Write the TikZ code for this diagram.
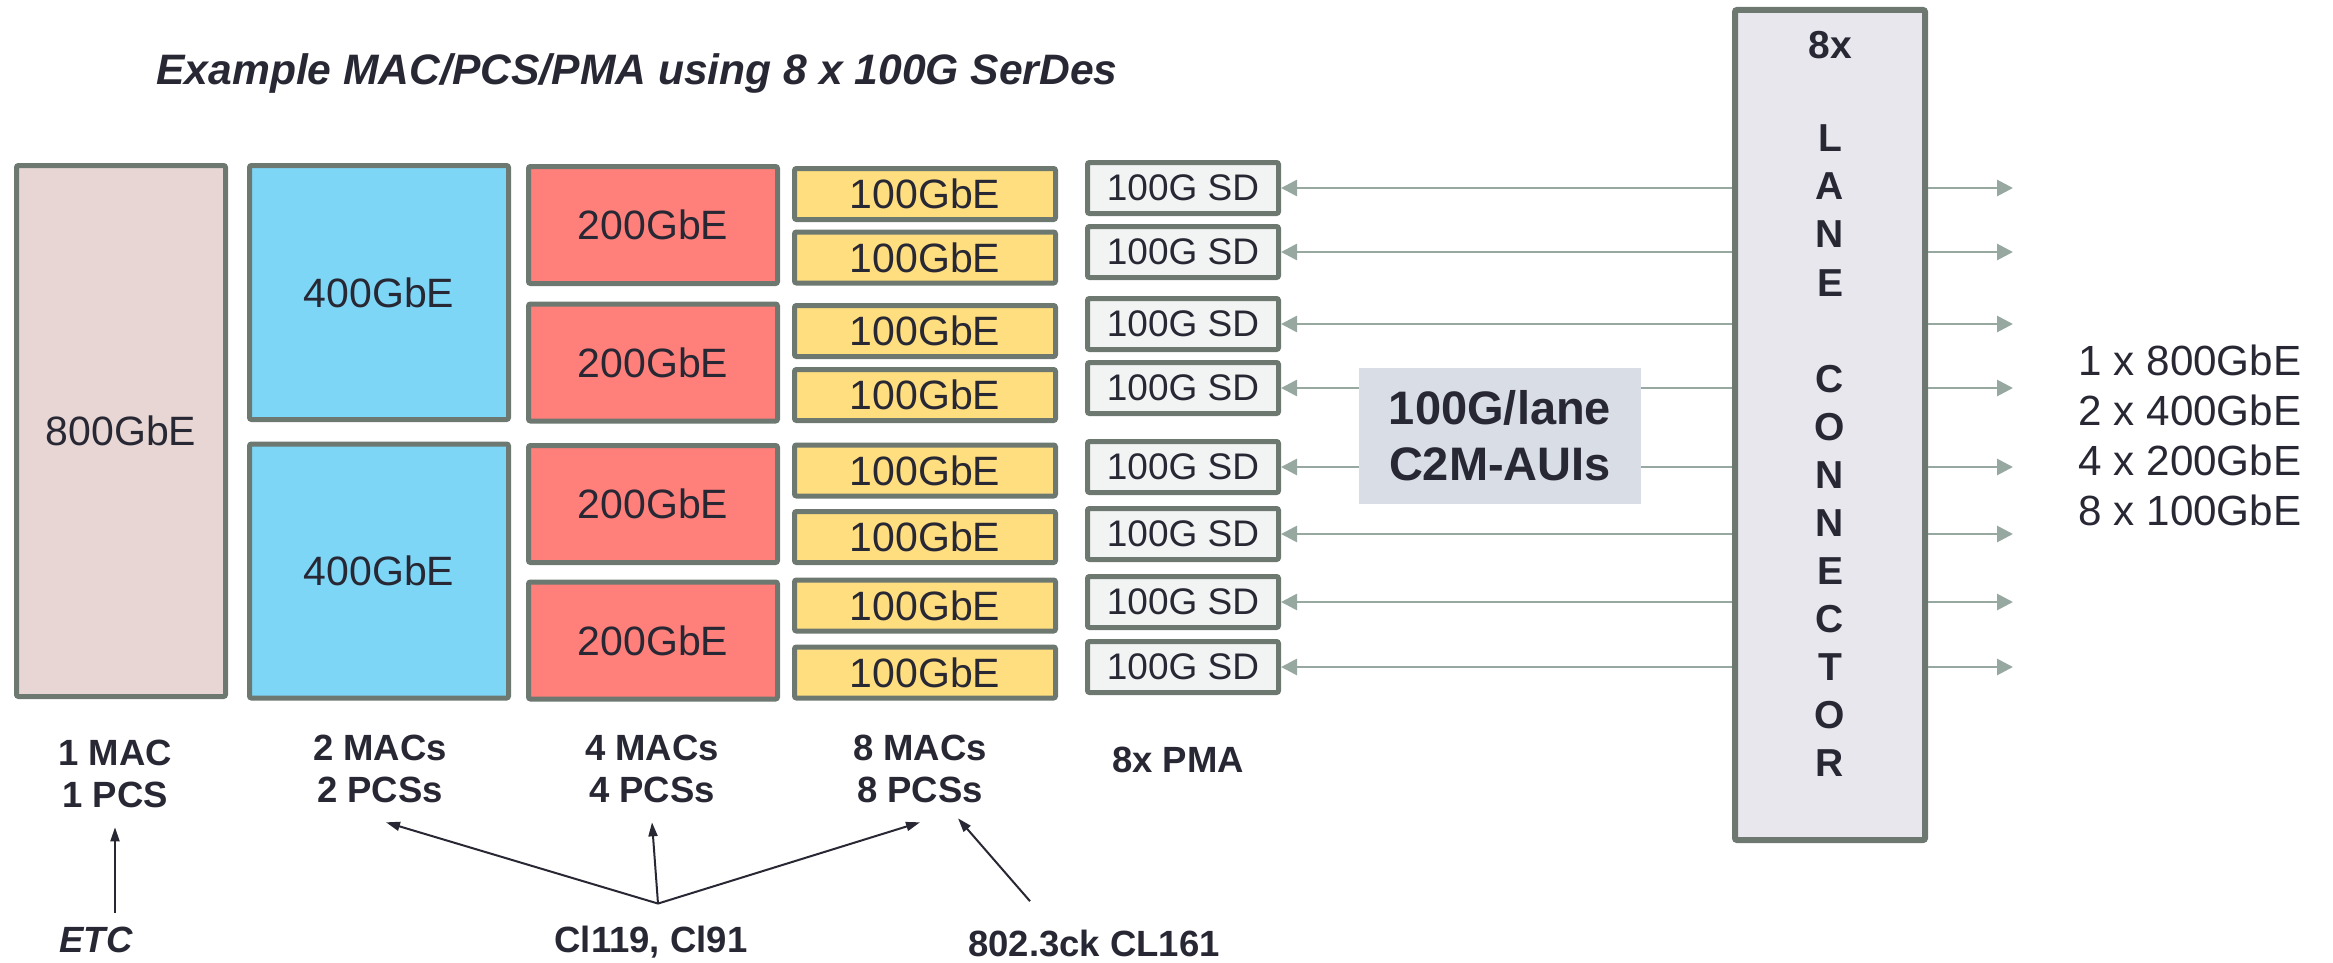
\documentclass[tikz,border=0pt]{standalone}
\usepackage{fontspec}
\setmainfont{Liberation Sans}
\usepackage{tikz}
\usetikzlibrary{arrows.meta}
\definecolor{lineCol}{RGB}{108,120,112}
\definecolor{arrowCol}{RGB}{150,168,160}
\definecolor{txtCol}{RGB}{40,40,52}
\definecolor{col800}{RGB}{232,214,212}
\definecolor{col400}{RGB}{126,214,247}
\definecolor{col200}{RGB}{255,127,123}
\definecolor{col100}{RGB}{255,222,128}
\definecolor{colSD}{RGB}{242,244,243}
\definecolor{colConn}{RGB}{232,231,237}
\definecolor{colAui}{RGB}{217,221,230}
\newcommand{\boxFont}{\fontsize{20.5}{24}\selectfont}
\newcommand{\sdFont}{\fontsize{18.5}{22}\selectfont}
\newcommand{\lblFont}{\fontsize{18.25}{21}\selectfont\bfseries}
\newcommand{\titleFont}{\fontsize{21.3}{25}\selectfont\bfseries\itshape}
\newcommand{\auiFont}{\fontsize{23.5}{28}\selectfont\bfseries}
\newcommand{\connFont}{\fontsize{19.5}{24}\selectfont\bfseries}
\newcommand{\rateFont}{\fontsize{21.1}{25}\selectfont}
\tikzset{myBox/.style={draw=lineCol, line width=2.5pt, rounded corners=1pt, inner sep=0pt, text=txtCol}}
\tikzset{laneArrow/.style={draw=arrowCol, line width=1.4pt, -{Triangle[length=8pt,width=8pt]}}}
\tikzset{myPtr/.style={draw=txtCol, line width=1pt, -{Triangle[length=7pt,width=4.5pt]}}}
\tikzset{myLbl/.style={text=txtCol, align=center, font=\lblFont, inner sep=9.5pt}}
\tikzset{connTxt/.style={text=txtCol, font=\connFont, inner sep=0pt}}

\begin{document}
\begin{tikzpicture}[x=0.5pt, y=-0.5pt]
	\useasboundingbox (0,0) rectangle (2333,963);

	\node[text=txtCol, font=\titleFont] (title) at (637,73) {Example MAC/PCS/PMA using 8 x 100G SerDes};

	% MAC/PCS columns
	\node[myBox, fill=col800, minimum width=104.5pt, minimum height=265.5pt, font=\boxFont] (ge800) at (121,431) {800GbE};
	\foreach \y [count=\i] in {292.5,571}{
		\node[myBox, fill=col400, minimum width=129.5pt, minimum height=127pt, font=\boxFont] (ge400\i) at (379,\y) {400GbE};
	}
	\foreach \y [count=\i] in {225,362.5,504,640.5}{
		\node[myBox, fill=col200, minimum width=124.5pt, minimum height=58.5pt, font=\boxFont] (ge200\i) at (653,\y) {200GbE};
	}
	\foreach \y [count=\i] in {194,257.5,331,395,470.5,537,605.5,672.5}{
		\node[myBox, fill=col100, minimum width=130.5pt, minimum height=25.5pt, font=\boxFont] (ge100\i) at (925,\y) {100GbE};
	}

	% PMA + connector
	\node[myBox, fill=colConn, line width=3pt, minimum width=95pt, minimum height=415pt] (conn) at (1830,425) {};
	\node[connTxt] (connX) at (1830,45) {8x};
	\foreach \ch [count=\i] in {L,A,N,E}{
		\node[connTxt] (connL\i) at (1830,{138+(\i-1)*48.2}) {\ch};
	}
	\foreach \ch [count=\i] in {C,O,N,N,E,C,T,O,R}{
		\node[connTxt] (connC\i) at (1830,{379+(\i-1)*48}) {\ch};
	}
	\foreach \y [count=\i] in {188,252,324,388,467,534,602,667}{
		\node[myBox, fill=colSD, minimum width=95.5pt, minimum height=25.5pt, font=\sdFont] (sd\i) at (1183,\y) {100G SD};
		\coordinate (out\i) at (2013,\y);
		\draw[laneArrow] (conn.west |- sd\i.east) -- (sd\i.east);
		\draw[laneArrow] (conn.east |- sd\i.east) -- (out\i);
	}
	\node[fill=colAui, text=txtCol, align=center, font=\auiFont, minimum width=141pt, minimum height=68pt] (aui) at (1500,436) {100G/lane\\C2M-AUIs};

	\node[text=txtCol, align=left, font=\rateFont] (rates) at (2190,435) {1 x 800GbE\\2 x 400GbE\\4 x 200GbE\\8 x 100GbE};

	% labels under the columns
	\node[myLbl] (mac1) at (115,774) {1 MAC\\1 PCS};
	\node[myLbl] (mac2) at (380,769) {2 MACs\\2 PCSs};
	\node[myLbl] (mac4) at (652,769) {4 MACs\\4 PCSs};
	\node[myLbl] (mac8) at (920,769) {8 MACs\\8 PCSs};
	\node[myLbl] (pma) at (1178,760) {8x PMA};

	\node[myLbl, font=\lblFont\itshape, inner sep=7pt] (etc) at (96,940) {ETC};
	\node[myLbl, inner sep=11pt] (cl) at (651,942) {Cl119, Cl91};
	\node[myLbl, inner sep=14pt] (ck) at (1094,943) {802.3ck CL161};

	\draw[myPtr] (etc.north -| mac1.south) -- (mac1.south);
	\draw[myPtr] ([xshift=3.5pt]cl.north) -- ([xshift=3pt]mac2.south);
	\draw[myPtr] ([xshift=3.5pt]cl.north) -- (mac4.south);
	\draw[myPtr] ([xshift=3.5pt]cl.north) -- (mac8.south);
	\draw[myPtr] ([xshift=-32pt]ck.north) -- ([xshift=19pt,yshift=2pt]mac8.south);
\end{tikzpicture}
\end{document}
